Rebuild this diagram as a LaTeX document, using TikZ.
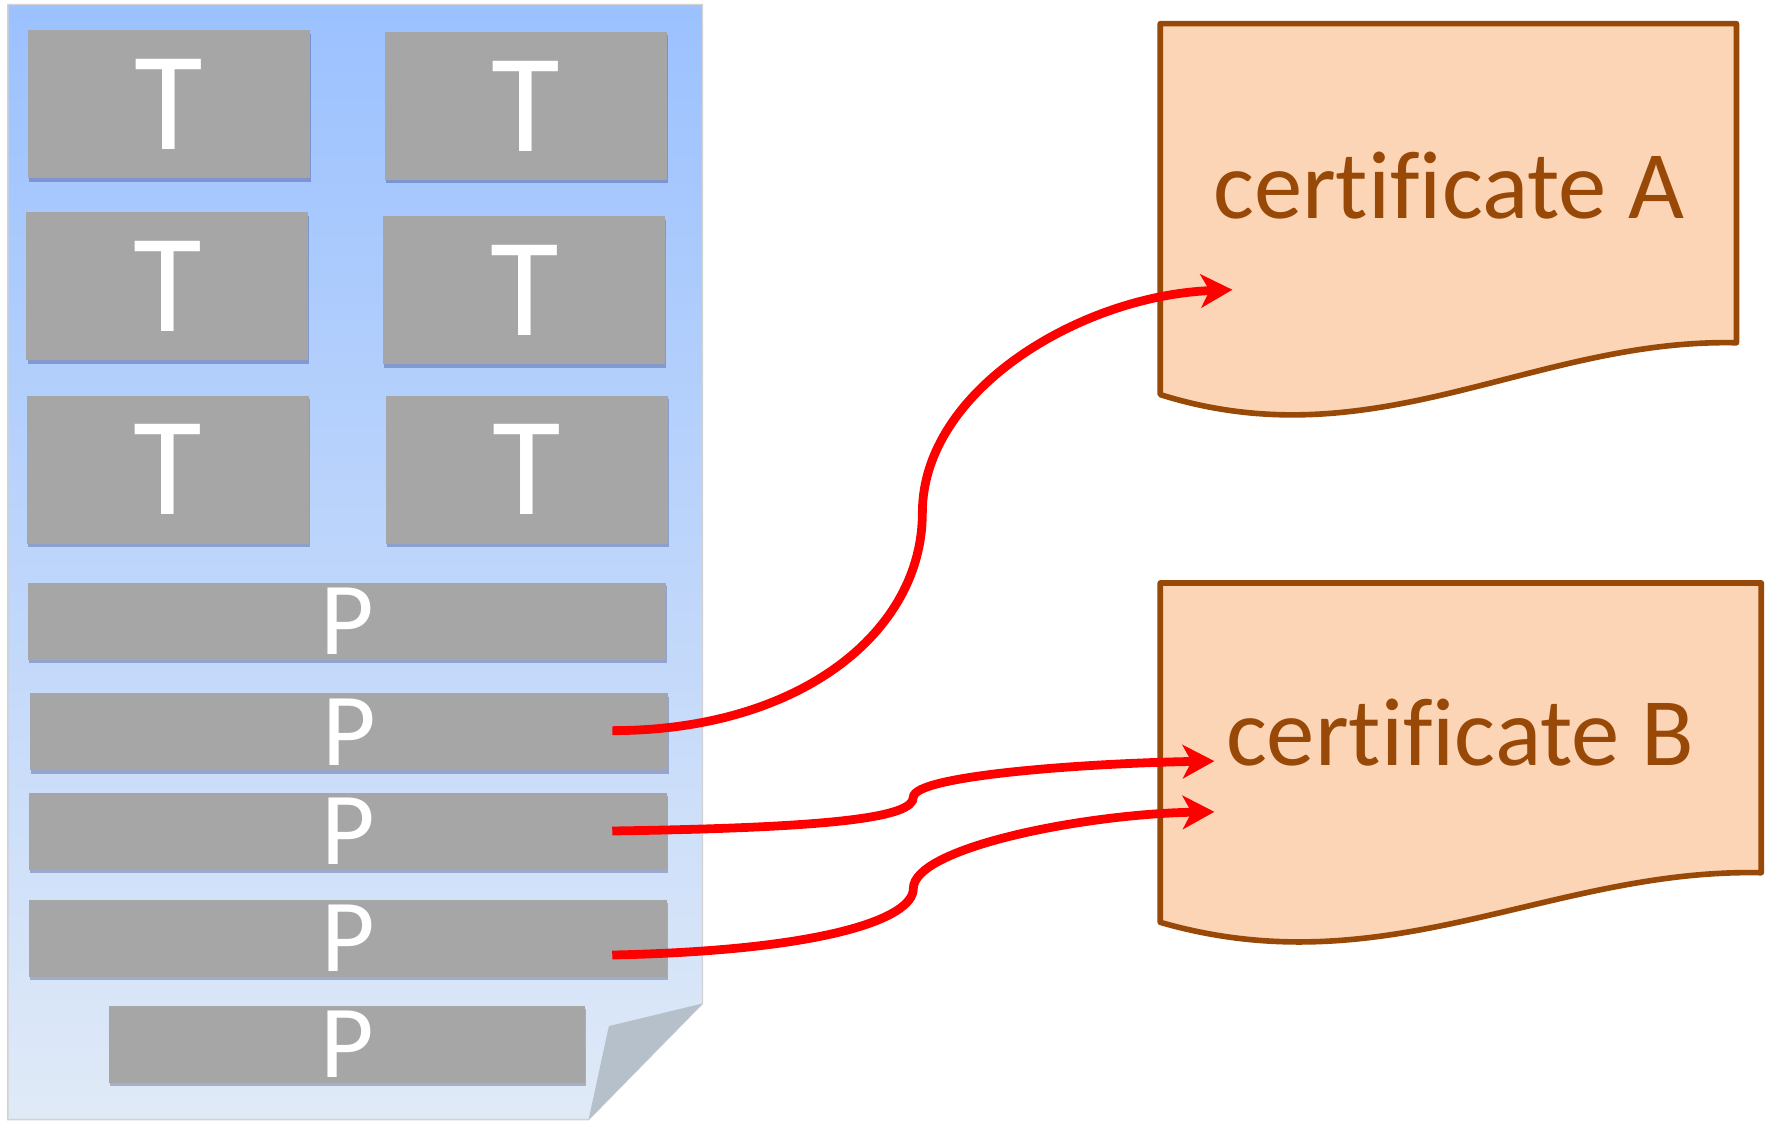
\documentclass[tikz,border=0pt]{standalone}
\usepackage{fontspec}
\setmainfont{Carlito}[Ligatures=CommonOff]
\usepackage{tikz}
\usetikzlibrary{arrows.meta,positioning,shadows}
\definecolor{docTop}{HTML}{9BC1FF}
\definecolor{docBot}{HTML}{E0EAF7}
\definecolor{boxGray}{HTML}{A6A6A6}
\definecolor{foldGray}{HTML}{B6C0CB}
\definecolor{certFill}{HTML}{FBD5B5}
\definecolor{certLine}{HTML}{984807}
\tikzset{
  >={Stealth[length=9pt, width=9.5pt, inset=2.5pt]},
  blk/.style  ={fill=boxGray, inner sep=0pt, text=white,
                drop shadow={shadow xshift=0.3pt, shadow yshift=-1pt, opacity=0.25, fill=blue!30!black}},
  tbox/.style ={blk, minimum width=2.82cm, minimum height=1.48cm, font=\fontsize{40}{40}\selectfont},
  pbox/.style ={blk, minimum width=6.38cm, minimum height=0.77cm, font=\fontsize{29.5}{29.5}\selectfont},
  cert/.style ={fill=certFill, draw=certLine, line width=1.6pt, line join=round},
  ctxt/.style ={text=certLine, font=\fontsize{27.5}{27.5}\selectfont, inner sep=0pt},
  link/.style ={->, draw=red, line width=2.5pt}
}

\begin{document}
\begin{tikzpicture}[x=0.011276cm, y=-0.011276cm]
\useasboundingbox (0,0) rectangle (1568,994);

% the page
\shade[top color=docTop, bottom color=docBot, draw=gray!35, line width=0.4pt]
  (7,4) -- (623,4) -- (623,890) -- (522,993) -- (7,993) -- cycle;
\fill[foldGray] (623,890) -- (540,910) -- (522,993) -- cycle;

% table blocks
\node[tbox] (t11) at (150,92.5)  {T};
\node[tbox] (t12) at (466.5,94)  {T};
\node[tbox] (t21) at (148.5,254) {T};
\node[tbox] (t22) at (465,257.5) {T};
\node[tbox] (t31) at (149,416.5) {T};
\node[tbox] (t32) at (467,416.5) {T};

% paragraph blocks
\node[pbox] (p1) at (308,551)   {P};
\node[pbox] (p2) at (309.5,649) {P};
\node[pbox] (p3) at (308.5,737) {P};
\node[pbox] (p4) at (308.5,832) {P};
\node[pbox, minimum width=4.76cm] (p5) at (308,926) {P};

% certificates
\draw[cert] (1029,21) -- (1540,21) -- (1540,304)
  .. controls (1360,300) and (1220,410) .. (1029,350) -- cycle;
\node[ctxt] (certA) at (1285,165) {certificate A};

\draw[cert] (1029,517) -- (1562,517) -- (1562,774)
  .. controls (1375,770) and (1230,876) .. (1029,818) -- cycle;
\node[ctxt] (certB) at (1295,650) {certificate B};

% links
\coordinate (sA)  at (543,648);
\coordinate (sB1) at (543,737);
\coordinate (sB2) at (543,847);
\coordinate (eA)  at (1093,257);
\coordinate (eB1) at (1077,675);
\coordinate (eB2) at (1077,720);

\draw[link] (sA) .. controls (710,648) and (818,560) .. (818,455)
  .. controls (818,345) and (960,262) .. (eA);
\draw[link] (sB1) .. controls (740,734) and (810,725) .. (810,707)
  .. controls (810,688) and (960,677) .. (eB1);
\draw[link] (sB2) .. controls (730,843) and (810,815) .. (810,788)
  .. controls (810,752) and (960,722) .. (eB2);
\end{tikzpicture}
\end{document}
